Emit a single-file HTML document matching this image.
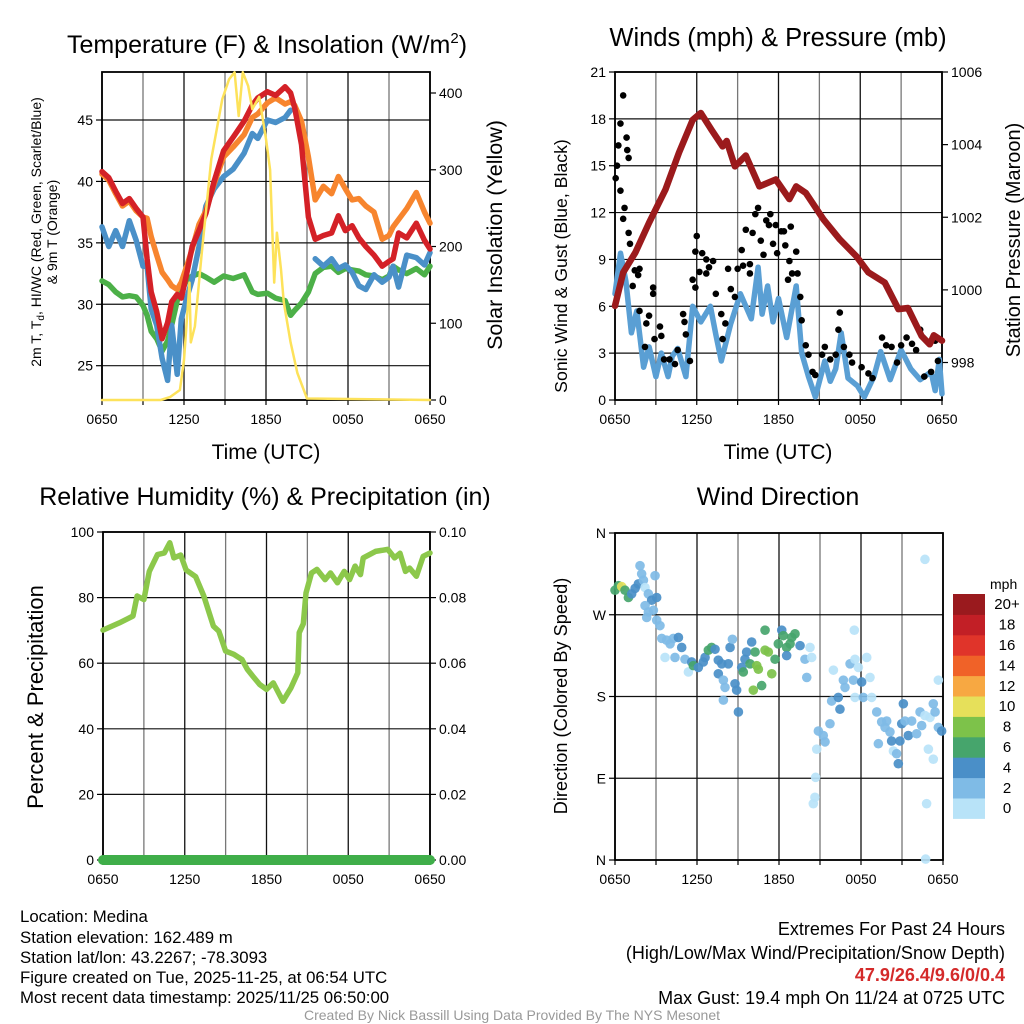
<!DOCTYPE html>
<html><head><meta charset="utf-8"><style>
html,body{margin:0;padding:0;background:#fff;}
svg{display:block;font-family:"Liberation Sans",Arial,sans-serif;}
</style></head><body>
<svg id="c" width="1024" height="1024" viewBox="0 0 1024 1024" xmlns="http://www.w3.org/2000/svg">
<text x="267" y="53" font-size="25" text-anchor="middle">Temperature (F) &amp; Insolation (W/m<tspan dy="-10" font-size="15">2</tspan><tspan dy="10">)</tspan></text>
<text x="778" y="46" font-size="25.5" text-anchor="middle">Winds (mph) &amp; Pressure (mb)</text>
<text x="265" y="505" font-size="25" text-anchor="middle">Relative Humidity (%) &amp; Precipitation (in)</text>
<text x="778" y="505" font-size="25" text-anchor="middle">Wind Direction</text>

<text x="266" y="459" font-size="21" text-anchor="middle">Time (UTC)</text>
<text x="778" y="459" font-size="21" text-anchor="middle">Time (UTC)</text>
<text transform="translate(41,232) rotate(-90)" font-size="14" text-anchor="middle">2m T, T<tspan dy="3" font-size="10">d</tspan><tspan dy="-3">, HI/WC (Red, Green, Scarlet/Blue)</tspan></text>
<text transform="translate(57,232) rotate(-90)" font-size="14" text-anchor="middle">&amp; 9m T (Orange)</text>
<text transform="translate(502,235) rotate(-90)" font-size="21.5" text-anchor="middle">Solar Insolation (Yellow)</text>
<text transform="translate(567,266) rotate(-90)" font-size="17.7" text-anchor="middle">Sonic Wind &amp; Gust (Blue, Black)</text>
<text transform="translate(1020,240) rotate(-90)" font-size="20" text-anchor="middle">Station Pressure (Maroon)</text>
<text transform="translate(43,697) rotate(-90)" font-size="22" text-anchor="middle">Percent &amp; Precipitation</text>
<text transform="translate(567,696) rotate(-90)" font-size="18.2" text-anchor="middle">Direction (Colored By Speed)</text>

<g font-size="16.8">
<text x="20" y="922">Location: Medina</text>
<text x="20" y="943">Station elevation: 162.489 m</text>
<text x="20" y="963">Station lat/lon: 43.2267; -78.3093</text>
<text x="20" y="983">Figure created on Tue, 2025-11-25, at 06:54 UTC</text>
<text x="20" y="1003">Most recent data timestamp: 2025/11/25 06:50:00</text>
</g>
<g font-size="18" text-anchor="end">
<text x="1005" y="935">Extremes For Past 24 Hours</text>
<text x="1005" y="959">(High/Low/Max Wind/Precipitation/Snow Depth)</text>
<text x="1005" y="981" fill="#d42a2a" font-weight="bold">47.9/26.4/9.6/0/0.4</text>
<text x="1005" y="1004">Max Gust: 19.4 mph On 11/24 at 0725 UTC</text>
</g>
<text x="512" y="1020" font-size="14" fill="#999" text-anchor="middle">Created By Nick Bassill Using Data Provided By The NYS Mesonet</text>
</svg>
<script>
// ---- Temperature panel data ----
const tempH=[0,0.5,1,1.5,2,2.5,3,3.3,3.6,4,4.4,4.8,5.1,5.5,5.8,6.2,6.6,7.1,7.6,8.2,8.9,9.6,10.4,11,11.4,12.1,12.7,13.4,13.8,14.1,14.6,15.1,15.6,16.2,16.8,17.3,17.8,18.3,18.8,19.3,19.9,20.5,21,21.3,21.7,22.3,23,23.6,24];
const tempRed=[40.8,40.3,39.2,38.2,38.6,37.8,37.1,33.7,31,29.4,27.2,28.5,30.2,30.8,30.5,32.5,34.7,36,37.4,40,42.5,43.6,44.9,46.2,46.8,47.3,47.0,47.7,47.2,46,43,37.1,35.3,35.6,35.8,37.2,36,36.4,35.4,34.7,34,33.1,33.5,33.7,35.8,35.4,36.6,35.2,34.5];
const tempOrange=[40.6,40.1,39.0,38.0,38.4,37.6,37.1,37.0,35.5,34,32.6,32.0,31.5,31.2,31.8,33.1,34.5,36.5,37.6,39.8,42,42.8,43.8,45.2,45.5,46.4,46.8,46.3,46.5,46.2,44.9,42,38.5,39.6,39.0,40.4,39.4,38.5,38.6,38.0,37.5,35.3,35.6,36.3,36.9,37.8,39.1,37.5,36.6];
const tempBlue=[36.3,34.7,36.0,34.7,36.8,35.2,33.1,33.1,29.6,28.3,25.6,23.8,28.3,24.3,28.8,30.5,32,34.7,38,39.4,40.4,41,42.3,43.9,43.5,45,44.8,45.2,45.8,null,null,null,33.7,33.1,33.7,32.9,33.2,32.6,31.5,31.2,32.4,31.8,32.2,33.1,31.4,34,33.8,33.2,34.2];
const tempGreen=[31.9,31.6,31.0,30.6,30.7,30.6,29.9,29.1,27.8,27.2,26.2,27,28.3,30.3,31,32,32.3,32.5,32.2,31.8,32.3,32.1,32.4,31,30.8,30.9,30.5,30.3,29.1,29.5,30.1,31,32.5,33,33.1,32.6,32.9,32.8,32.7,32.4,32.3,32,32.3,33.1,32.8,32.5,32.9,32.4,33.1];
const solarH=[0,4.3,5.0,5.7,6.0,6.4,6.5,6.8,7.3,8.0,8.8,9.3,9.7,10,10.3,10.7,11,11.5,12,12.3,12.6,12.8,13.1,13.3,13.8,14.3,15,24];
const solar=[0,0,4,13,52,153,75,96,192,314,392,418,427,370,427,409,379,395,340,300,153,218,170,127,75,35,2,0];
const tempTicks=[25,30,35,40,45];
const solarTicks=[0,100,200,300,400];
const timeLabels=["0650","1250","1850","0050","0650"];
// ---- Winds panel data ----
const windH=[0,0.4,0.8,1.2,1.6,2.1,2.5,3,3.4,3.9,4.2,4.6,5.2,5.7,6.3,7,7.4,7.8,8.5,9.2,10,10.5,10.8,11.2,11.6,12,12.6,13.3,13.7,14.2,14.7,15.4,15.8,16.2,16.6,17.1,17.8,18.3,19,19.5,20.2,21,21.7,22.4,23.2,23.5,23.8,24];
const windSpd=[6.8,9.4,7.6,4.3,5.7,2.1,3.4,1.5,3.0,1.5,2.8,3.3,1.5,6.0,5.0,6.0,4.2,2.5,4.9,6.8,5.2,8.5,5.5,7.3,5.0,6.5,4.0,7.3,3.0,1.5,0.2,2.5,1.2,2.0,4.3,1.4,0.9,0.2,1.5,3.1,1.3,3.2,2.0,1.3,1.8,0.6,2.6,0.4];
const gustH=[0.05,0.15,0.25,0.4,0.6,0.85,0.9,1.0,0.4,0.7,0.6,1.0,1.1,1.45,1.8,1.3,1.7,1.8,2.5,2.3,2.8,2.8,3.3,2.9,3.4,2.2,3.6,4.0,4.4,4.6,5.0,5.1,5.2,5.5,5.7,5.9,6.0,5.9,6.4,6.2,6.7,6.9,7.2,6.7,7.4,7.8,8.1,7.9,8.3,8.5,8.8,9.0,9.3,9.4,9.6,9.9,9.9,10.1,10.3,10.5,10.7,10.9,11.1,11.3,11.4,11.6,11.8,11.9,12.2,12.4,12.5,12.8,12.9,12.7,13.0,13.3,13.4,13.6,13.7,14.0,14.2,14.5,14.7,15.2,15.4,15.8,16.2,16.4,16.5,16.8,17.2,17.4,18.1,18.6,18.9,19.6,19.9,20.3,20.7,21.0,21.4,21.8,22.1,22.4,22.7,23.2,23.7,23.5];
const gust=[14.2,15.0,16.3,17.7,19.5,16.8,16.0,15.5,13.4,12.3,11.6,10.7,10.0,8.3,8.4,7.3,8.0,5.7,5.4,4.9,6.8,7.2,4.7,3.9,4.1,3.4,2.6,2.6,2.3,3.2,5.5,5.0,4.2,2.5,7.7,7.2,10.5,9.5,9.4,8.2,9.0,8.5,8.9,8.1,6.8,5.5,4.9,3.9,8.4,7.1,6.6,8.4,9.6,8.6,10.9,8.7,8.1,10.7,11.9,12.3,10.2,9.3,11.5,11.2,11.9,10.0,11.2,9.4,10.8,10.8,9.9,8.9,11.1,7.7,8.1,9.5,8.1,6.6,5.1,3.5,2.9,1.8,1.6,2.9,3.4,2.6,2.9,4.5,5.6,3.4,2.9,2.4,2.1,1.7,1.4,4.0,3.5,3.4,2.4,3.5,4.0,3.6,3.2,4.5,1.5,1.8,2.5,3.8];
const presH=[0,0.6,1.5,2.5,3.7,4.7,5.7,6.3,7.1,7.9,8.2,8.8,9.6,10.6,11.8,12.8,13.3,14,15.3,16.5,17.7,18.6,19.8,20.8,21.5,22.5,23.1,23.4,24];
const pres=[999.56,1000.48,1001.03,1001.85,1002.76,1003.78,1004.68,1004.87,1004.4,1003.95,1004.1,1003.4,1003.7,1002.85,1003.04,1002.5,1002.85,1002.67,1001.94,1001.39,1000.93,1000.48,1000.2,999.47,999.5,998.73,998.5,998.75,998.6];
const windTicks=[0,3,6,9,12,15,18,21];
const presTicks=[998,1000,1002,1004,1006];
// ---- Humidity panel data ----
const rhH=[0,1.2,2.2,2.5,3,3.4,4,4.5,4.9,5.2,5.7,6.1,6.8,7.4,8.1,8.5,9,9.6,10.2,10.6,11,11.5,12,12.5,13.2,13.8,14.3,14.4,14.7,14.9,15.3,15.7,16.3,16.7,17.2,17.7,18.1,18.5,18.9,19.1,20,20.9,21.4,21.8,22.2,22.5,23,23.5,24];
const rh=[70.1,72.3,74.4,80.5,79.4,88,93.1,93.6,96.7,92.1,93,88.4,86.4,80.5,71.3,69.8,63.7,62.7,61.1,58.1,56,53.5,52,54,48.4,52.5,57.1,69.3,72,81.4,87.5,88.6,85.5,87.5,84.5,88,85.5,89.6,87,92.1,94.1,94.7,92.1,93.5,88,89,86.5,92.6,93.6];
const precipH=[0,24];
const precip=[0,0];
const rhTicks=[0,20,40,60,80,100];
const precipTicks=["0.00","0.02","0.04","0.06","0.08","0.10"];
// ---- Wind direction data ----
const dirH=[0.0,0.25,0.49,0.73,0.98,1.22,1.47,1.71,1.83,1.95,2.08,2.2,2.44,2.68,2.93,3.05,2.2,2.44,2.81,2.32,3.05,3.29,3.42,3.78,4.03,4.27,4.64,4.88,3.66,4.39,5.12,5.37,5.61,5.73,6.1,6.46,6.59,6.83,7.07,7.32,7.56,7.81,7.56,7.93,8.05,7.93,8.29,8.42,8.59,8.78,8.9,9.03,9.27,9.39,9.51,9.63,10.0,9.88,10.25,10.37,10.49,10.12,10.73,10.98,10.98,11.22,11.47,11.71,11.95,12.2,12.32,12.56,12.81,12.93,13.17,12.56,13.54,13.9,14.27,14.39,14.03,15.98,15.85,16.34,16.46,16.71,16.83,17.2,17.44,17.56,17.56,17.81,18.05,18.17,18.42,18.66,18.78,19.15,19.27,19.51,19.76,19.88,20.12,20.24,20.37,20.61,20.73,20.85,20.98,21.1,21.22,21.46,21.71,22.07,22.44,22.32,22.68,23.05,23.29,23.42,23.66,23.9,23.66,22.93,23.29,14.88,15.24,15.37,15.73,14.76,14.68,14.63,14.51,22.68,22.8,22.73,17.51];
const dirDeg=[297,302,301,297,289,293,299,304,324,315,308,300,293,286,313,289,280,273,275,267,264,258,244,242,238,244,245,234,223,223,221,207,218,214,212,218,223,231,234,232,220,216,205,198,190,176,216,234,243,194,187,163,212,207,221,229,240,216,229,214,210,187,192,253,231,229,205,221,238,253,247,234,238,245,249,225,236,221,234,223,201,209,175,179,166,198,190,216,198,221,179,212,196,179,223,201,179,163,128,152,146,153,141,131,120,117,106,131,150,172,153,137,153,139,148,163,159,157,172,163,146,142,198,122,111,142,137,130,150,122,91,69,62,331,62,1,253];
const dirSpd=[6,6,10,6,6,4,4,4,2,2,2,0,2,4,2,4,2,2,2,2,2,2,2,2,2,2,4,4,0,2,2,0,4,6,4,4,4,6,6,4,4,4,4,2,2,2,4,4,2,4,4,4,4,6,4,4,4,6,6,8,8,8,6,6,8,8,8,6,6,4,6,6,6,6,6,4,4,2,0,0,2,0,2,4,4,2,2,2,2,0,0,0,4,2,0,0,0,2,2,2,2,2,2,4,0,2,4,4,4,4,2,4,2,2,2,2,0,0,2,2,2,4,0,0,0,2,2,2,2,0,0,0,0,0,0,0,0];
const dirTicks=["N","E","S","W","N"];
const cbLabels=["0","2","4","6","8","10","12","14","16","18","20+"];
const cbColors=["#b8e3f8","#7fbbe6","#4a8fc8","#46a56c","#7dc24a","#e6e05a","#f7a842","#f06228","#e0342a","#c21f26","#9a1a1e"];

const svg=document.getElementById('c');
const NS="http://www.w3.org/2000/svg";
function mk(tag,attrs,parent){const e=document.createElementNS(NS,tag);for(const k in attrs)e.setAttribute(k,attrs[k]);(parent||svg).appendChild(e);return e;}
function lin(d0,d1,r0,r1){return v=>r0+(v-d0)*(r1-r0)/(d1-d0);}

function frame(x0,x1,y0,y1,name,xs,ysL,tickYL,labL,ysR,tickYR,labR){
  const g=mk('g',{});
  
  
  for(let i=0;i<=8;i++){const x=xs(i*3);
    mk('line',{x1:x,x2:x,y1:y0,y2:y1,stroke:i%2?'#777':'#111','stroke-width':1.3},g);
    mk('line',{x1:x,x2:x,y1:y1,y2:y1+5,stroke:'#000','stroke-width':1.2},g);}
  ysL.forEach((v,i)=>{const y=tickYL(v);
    mk('line',{x1:x0,x2:x1,y1:y,y2:y,stroke:'#111','stroke-width':1.2},g);
    mk('line',{x1:x0-6,x2:x0,y1:y,y2:y,stroke:'#000','stroke-width':1.2},g);
    const t=mk('text',{x:x0-9,y:y+5,'font-size':14,'text-anchor':'end'},g);t.textContent=labL[i];});
  if(ysR){ysR.forEach((v,i)=>{const y=tickYR(v);
    mk('line',{x1:x1,x2:x1+6,y1:y,y2:y,stroke:'#000','stroke-width':1.2},g);
    const t=mk('text',{x:x1+9,y:y+5,'font-size':14},g);t.textContent=labR[i];});}
  mk('rect',{x:x0,y:y0,width:x1-x0,height:y1-y0,fill:'none',stroke:'#000','stroke-width':1.8},g);
  for(let i=0;i<5;i++){const t=mk('text',{x:xs(i*6),y:y1+24,'font-size':14,'text-anchor':'middle'},g);t.textContent=timeLabels[i];}
}
function line(hs,vs,xs,ys,color,w,name){
  let segs=[],cur=[];
  hs.forEach((h,i)=>{if(vs[i]===null){if(cur.length)segs.push(cur);cur=[];}else cur.push(xs(h).toFixed(1)+','+ys(vs[i]).toFixed(1));});
  if(cur.length)segs.push(cur);
  segs.forEach(s=>{const p=mk('polyline',{points:s.join(' '),fill:'none',stroke:color,'stroke-width':w,'stroke-linejoin':'round','stroke-linecap':'round'});
    
    });
}

// Panel 1
(function(){
  const x0=102,x1=430,y0=72,y1=400;
  const xs=lin(0,24,x0,x1), yT=lin(25,45,365.7,120), yS=lin(0,400,400,93);
  frame(x0,x1,y0,y1,'temperature',xs,tempTicks,yT,tempTicks.map(String),solarTicks,yS,solarTicks.map(String));
  line(tempH,tempGreen,xs,yT,'#4cb048',5.5,'dewpoint-line');
  line(tempH,tempBlue,xs,yT,'#4a90c8',5.5,'windchill-line');
  line(tempH,tempOrange,xs,yT,'#f7852e',5.5,'9m-temperature-line');
  line(tempH,tempRed,xs,yT,'#d42127',5.5,'2m-temperature-line');
  line(solarH,solar,xs,yS,'#fde25a',2.5,'solar-line');
})();
// Panel 2
(function(){
  const x0=615,x1=942,y0=72,y1=400;
  const xs=lin(0,24,x0,x1), yW=lin(0,21,400,72), yP=lin(998,1006,362.5,72);
  frame(x0,x1,y0,y1,'winds',xs,windTicks,yW,windTicks.map(String),presTicks,yP,presTicks.map(String));
  line(windH,windSpd,xs,yW,'#5a9fd4',5.5,'sonic-wind-line');
  gustH.forEach((h,i)=>{const c=mk('circle',{cx:xs(h),cy:yW(gust[i]),r:3.3,fill:'#000'});
    
    });
  line(presH,pres,xs,yP,'#9b1a1c',6.5,'pressure-line');
})();
// Panel 3
(function(){
  const x0=103,x1=430,y0=532,y1=860;
  const xs=lin(0,24,x0,x1), yR=lin(0,100,860,532), yPr=lin(0,0.1,860,532);
  frame(x0,x1,y0,y1,'humidity',xs,rhTicks,yR,rhTicks.map(String),precipTicks.map(Number),yPr,precipTicks);
  line(rhH,rh,xs,yR,'#8cc84b',5.5,'humidity-line');
  line(precipH,precip,xs,yPr,'#3fae49',10,'precipitation-line');
})();
// Panel 4
(function(){
  const x0=615,x1=943,y0=533,y1=860;
  const xs=lin(0,24,x0,x1), yD=lin(0,360,860,533);
  frame(x0,x1,y0,y1,'direction',xs,[0,90,180,270,360],yD,dirTicks,null);
  dirH.forEach((h,i)=>{const c=mk('circle',{cx:xs(h),cy:yD(dirDeg[i]),r:4.8,fill:cbColors[Math.min(10,Math.floor(dirSpd[i]/2))],'fill-opacity':0.92});
    
    });
  const g=mk('g',{});
  
  
  const bx=953,bw=32,bh=20.4,btop=594;
  const t0=mk('text',{x:990,y:589,'font-size':14},g);t0.textContent='mph';
  cbColors.forEach((c,i)=>{const y=btop+(10-i)*bh;
    mk('rect',{x:bx,y:y,width:bw,height:bh+0.5,fill:c},g);
    const t=mk('text',{x:1007,y:y+bh/2+5,'font-size':15,'text-anchor':'middle'},g);t.textContent=cbLabels[i];});
})();
</script>
</body></html>
